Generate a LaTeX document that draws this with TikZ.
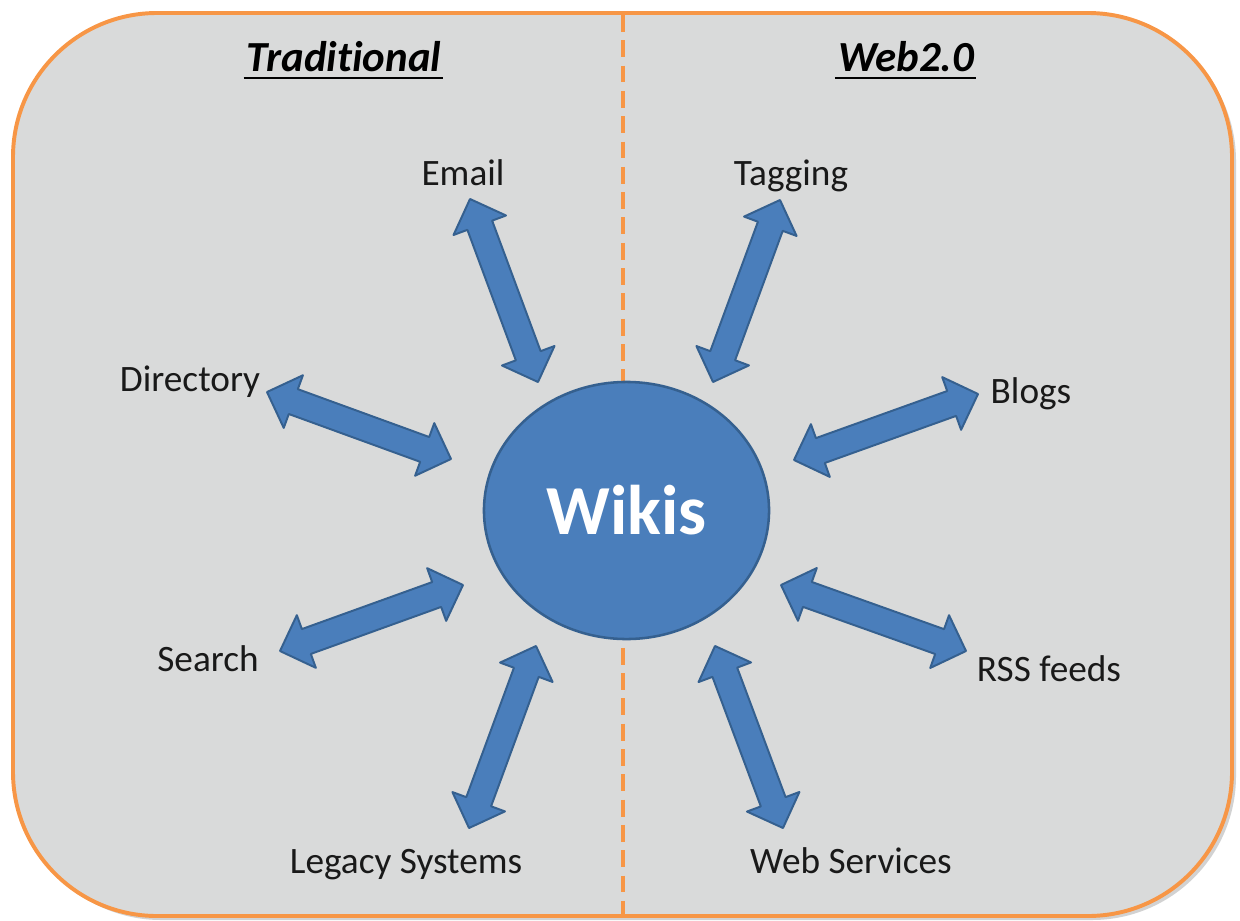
\documentclass[tikz,border=0pt]{standalone}
\usepackage{fontspec}
\setmainfont{Carlito}
\usetikzlibrary{calc,shapes.geometric}
\definecolor{boxfill}{HTML}{D9DADA}
\definecolor{boxline}{HTML}{F79646}
\definecolor{wikifill}{HTML}{4A7EBB}
\definecolor{wikiline}{HTML}{35608F}
\definecolor{arrfill}{HTML}{4A7EBB}
\definecolor{arrline}{HTML}{35608F}
\def\arrHL{0.7cm}\def\arrHW{0.7cm}\def\arrSW{0.33cm}
\newcommand\blockarr[2]{%
 \filldraw[blockarrow]
  (#1)
  -- ($($(#1)!\arrHL!(#2)$)!\arrHW!90:(#2)$)
  -- ($($(#1)!\arrHL!(#2)$)!\arrSW!90:(#2)$)
  -- ($($(#2)!\arrHL!(#1)$)!\arrSW!-90:(#1)$)
  -- ($($(#2)!\arrHL!(#1)$)!\arrHW!-90:(#1)$)
  -- (#2)
  -- ($($(#2)!\arrHL!(#1)$)!\arrHW!90:(#1)$)
  -- ($($(#2)!\arrHL!(#1)$)!\arrSW!90:(#1)$)
  -- ($($(#1)!\arrHL!(#2)$)!\arrSW!-90:(#2)$)
  -- ($($(#1)!\arrHL!(#2)$)!\arrHW!-90:(#2)$)
  -- cycle;}
\begin{document}
\begin{tikzpicture}[x=0.025cm,y=-0.025cm,
  lbl/.style={font=\fontsize{26.5}{30}\selectfont, anchor=base, text=black!90, inner sep=0pt},
  ttl/.style={font=\fontsize{30.5}{34}\selectfont\bfseries\itshape\addfontfeatures{Ligatures=NoCommon}, anchor=base, text=black, inner sep=0pt},
  blockarrow/.style={fill=arrfill, draw=arrline, line width=1.4pt, line join=round},
  wiki/.style={ellipse, fill=wikifill, draw=wikiline, line width=1.8pt, minimum width=7.125cm, minimum height=6.425cm, inner sep=0pt, text=white, font=\fontsize{50}{56}\selectfont\bfseries},
  panel/.style={fill=boxfill, draw=boxline, line width=2.8pt, rounded corners=3.6cm},
  divider/.style={draw=boxline, line width=3.5pt, dash pattern=on 12pt off 6pt}]
\useasboundingbox (0,0) rectangle (1240,920);
% shadow and panel
\fill[black!35, opacity=0.5, rounded corners=3.6cm] (17,17) rectangle (1236,920);
\path[panel] (13,13) rectangle (1232,916);
% divider
\coordinate (dtop) at (623,15);
\coordinate (dbot) at (623,914);
\draw[divider] (dtop) -- (dbot);
% center
\node[wiki] (wikis) at (626.5,510.5) {Wikis};
% arrow tips
\coordinate (e1) at (470,199); \coordinate (e2) at (538,382);
\coordinate (d1) at (267,392); \coordinate (d2) at (451,459);
\coordinate (t1) at (780,200); \coordinate (t2) at (713,382);
\coordinate (b1) at (978,394); \coordinate (b2) at (794,460);
\coordinate (s1) at (463,585); \coordinate (s2) at (280,651);
\coordinate (r1) at (781,585); \coordinate (r2) at (966,651);
\coordinate (l1) at (536,646); \coordinate (l2) at (469,828);
\coordinate (w1) at (715,646); \coordinate (w2) at (783,828);
\blockarr{e1}{e2}
\blockarr{d1}{d2}
\blockarr{t1}{t2}
\blockarr{b1}{b2}
\blockarr{s1}{s2}
\blockarr{r1}{r2}
\blockarr{l1}{l2}
\blockarr{w1}{w2}
% titles
\node[ttl] (trad) at (344,71) {Traditional};
\node[ttl] (web) at (906,71) {Web2.0};
\draw[line width=2pt] ([yshift=-5pt,xshift=-2pt]trad.base west) -- ([yshift=-5pt,xshift=1pt]trad.base east);
\draw[line width=2pt] ([yshift=-5pt,xshift=-2pt]web.base west) -- ([yshift=-5pt,xshift=1pt]web.base east);
% labels
\node[lbl] (email) at (463,185) {Email};
\node[lbl] (tagging) at (791,185) {Tagging};
\node[lbl] (directory) at (190,391) {Directory};
\node[lbl] (blogs) at (1031,403) {Blogs};
\node[lbl] (search) at (208,671) {Search};
\node[lbl] (rss) at (1049,681) {RSS feeds};
\node[lbl] (legacy) at (406,873) {Legacy Systems};
\node[lbl] (websvc) at (851,873) {Web Services};
\end{tikzpicture}
\end{document}
